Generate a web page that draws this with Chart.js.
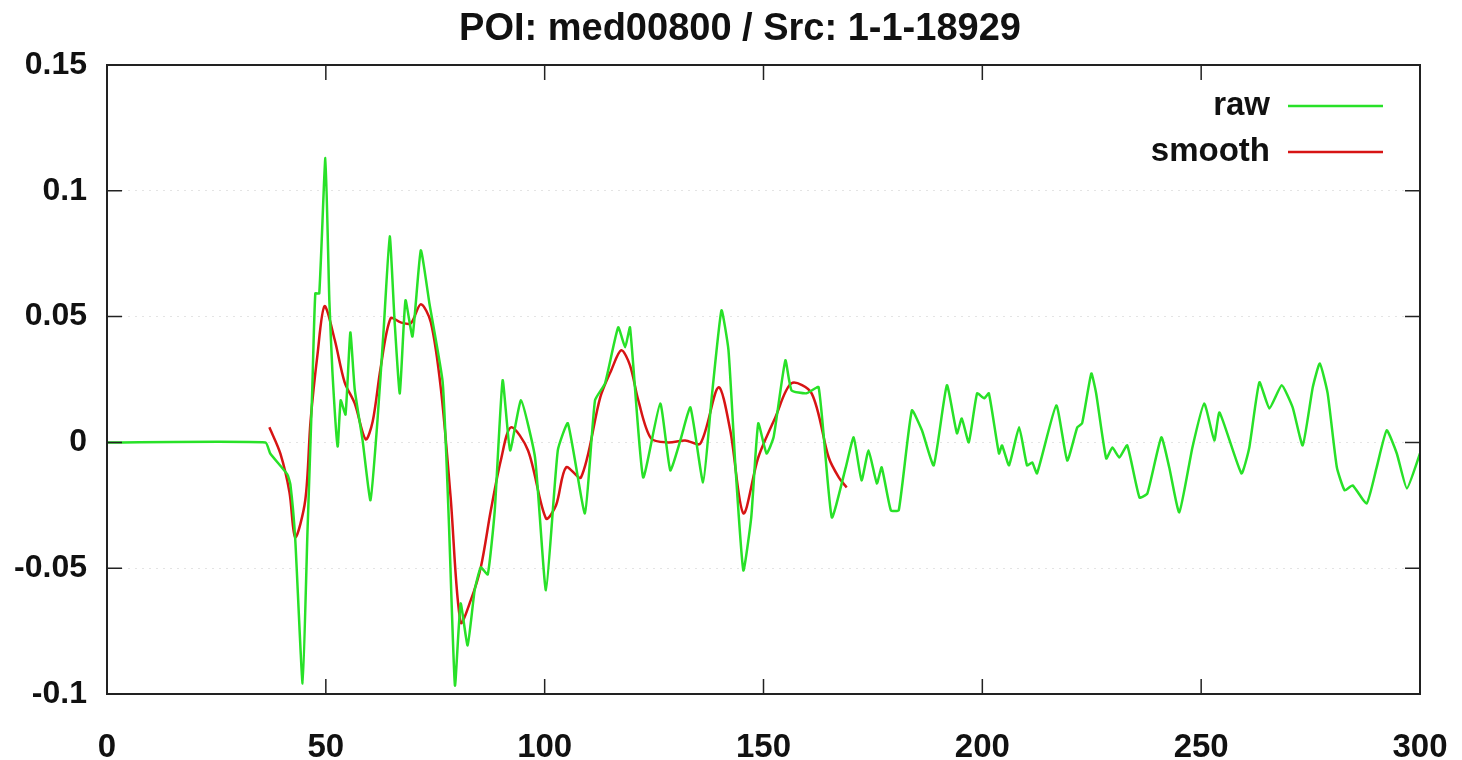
<!DOCTYPE html>
<html>
<head>
<meta charset="utf-8">
<title>POI: med00800 / Src: 1-1-18929</title>
<script src="https://cdn.jsdelivr.net/npm/chart.js@4/dist/chart.umd.min.js"></script>
<style>
  html, body { margin: 0; padding: 0; background: #fff; }
  #wrap { width: 1462px; height: 760px; position: relative; }
</style>
</head>
<body>
<div id="wrap"><canvas id="poiChart"></canvas></div>
<script>
// raw trace
const rawX = [0, 36.2, 37.3, 41.2, 41.9, 43.0, 44.7, 45.8, 46.9, 47.6, 48.5, 49.9, 50.8, 51.5, 52.7, 53.4, 54.5, 55.6, 56.6, 58.4,
  60.2, 61.8, 63.2, 64.6, 65.7, 66.9, 68.2, 69.8, 71.7, 73.7, 76.7, 78.1, 79.5, 80.8, 82.4, 84.0, 85.4, 87.0, 88.6, 90.4,
  92.1, 94.6, 97.8, 100.3, 103.0, 105.3, 109.2, 111.5, 113.8, 116.8, 118.4, 119.5, 122.5, 126.4, 128.7, 131.0, 133.3, 136.2, 138.1, 140.4,
  142.0, 143.6, 145.4, 147.2, 148.8, 150.7, 152.3, 155.0, 156.4, 159.8, 162.6, 165.6, 168.8, 170.6, 172.4, 174.0, 175.9, 177.0, 179.1, 180.9,
  183.9, 186.2, 188.9, 191.9, 194.2, 195.3, 196.9, 198.8, 200.4, 201.5, 203.8, 204.5, 206.1, 208.4, 210.2, 211.4, 212.5, 216.9, 219.4, 221.7,
  222.8, 224.9, 226.0, 228.3, 229.7, 231.3, 233.1, 235.9, 237.7, 240.9, 242.7, 245.0, 248.0, 250.7, 253.0, 254.2, 259.2, 261.0, 263.3, 265.6,
  268.4, 270.9, 273.2, 275.5, 277.1, 278.9, 281.0, 282.8, 284.6, 287.8, 290.1, 292.4, 294.7, 297.0, 300];
const rawY = [0, 0, -0.0044, -0.0127, -0.0167, -0.0382, -0.0958, -0.0358, 0.0211, 0.0592, 0.0592, 0.113, 0.0565, 0.0282, -0.0016, 0.0167, 0.0111, 0.0437, 0.0211, 0.0008,
  -0.023, 0.0087, 0.0445, 0.0819, 0.0485, 0.0195, 0.0565, 0.0421, 0.0763, 0.0549, 0.0239, -0.031, -0.0966, -0.064, -0.0807, -0.0588, -0.0497, -0.0525, -0.027, 0.0247,
  -0.0032, 0.0167, -0.006, -0.0588, -0.0032, 0.0076, -0.0282, 0.0167, 0.0235, 0.0457, 0.0378, 0.0457, -0.0139, 0.0155, -0.0111, 0.0008, 0.0139, -0.0159, 0.0167, 0.0525,
  0.0366, -0.0099, -0.0509, -0.0298, 0.0076, -0.0044, 0.002, 0.0326, 0.0207, 0.0195, 0.0219, -0.0298, -0.0099, 0.002, -0.0151, -0.0032, -0.0163, -0.0099, -0.027, -0.027,
  0.0127, 0.0048, -0.0091, 0.0227, 0.0036, 0.0095, 0, 0.0195, 0.0175, 0.0195, -0.0044, -0.0012, -0.0091, 0.006, -0.0091, -0.008, -0.0123, 0.0147, -0.0072, 0.006,
  0.0076, 0.0274, 0.0195, -0.0064, -0.002, -0.006, -0.0012, -0.0219, -0.0203, 0.002, -0.0099, -0.0278, -0.002, 0.0155, 0.0008, 0.0119, -0.0123, -0.002, 0.0239, 0.0135,
  0.0227, 0.0139, -0.0012, 0.0219, 0.0314, 0.0195, -0.0099, -0.0191, -0.0171, -0.0243, -0.0099, 0.0048, -0.0044, -0.0183, -0.0044];

// smoothed trace
const smoothX = [37.1, 39.6, 41.7, 43.0, 45.3, 46.5, 48.1, 49.7, 52.0, 54.3, 56.6, 59.1, 60.7, 62.5, 64.8, 67.1, 69.4, 71.7, 74.0, 76.3,
  78.5, 80.8, 83.1, 85.4, 87.7, 90.0, 92.3, 96.2, 100.3, 102.6, 104.9, 108.3, 112.7, 115.2, 117.5, 119.5, 121.4, 124.3, 128.2, 132.1,
  135.6, 139.7, 142.4, 145.4, 148.8, 152.7, 156.4, 161.0, 164.9, 167.2, 169.0];
const smoothY = [0.006, -0.0044, -0.0199, -0.0378, -0.023, 0.0083, 0.035, 0.0541, 0.041, 0.0239, 0.0155, 0.0012, 0.0083, 0.0294, 0.0493, 0.0477, 0.0473, 0.0549, 0.0477, 0.0211,
  -0.0215, -0.0716, -0.0628, -0.0497, -0.027, -0.007, 0.006, -0.0032, -0.0302, -0.025, -0.0099, -0.0139, 0.0179, 0.0286, 0.0366, 0.0306, 0.0167, 0.0016, 0, 0.0008,
  -0.0004, 0.0219, 0.0048, -0.0282, -0.006, 0.0099, 0.0235, 0.0195, -0.006, -0.0139, -0.0179];

const xTicks = [0, 50, 100, 150, 200, 250, 300];
const yTicks = [-0.1, -0.05, 0, 0.05, 0.1, 0.15];

const titleText = "POI: med00800 / Src: 1-1-18929";
const seriesNames = ["raw", "smooth"];
const seriesColors = ["rgb(40, 225, 40)", "rgb(215, 20, 20)"];

const FONT = "'Liberation Sans', Arial, sans-serif";

function toPoints(xs, ys) {
  return xs.map((x, i) => ({ x: x, y: ys[i] }));
}

// title, border with inward ticks, key
const gnuplotFrame = {
  id: "gnuplotFrame",
  afterDraw(chart) {
    const ctx = chart.ctx;
    const a = chart.chartArea;
    const xs = chart.scales.x, ys = chart.scales.y;
    ctx.save();

    ctx.fillStyle = "#111";
    ctx.font = "bold 38px " + FONT;
    ctx.textAlign = "center";
    ctx.textBaseline = "middle";
    ctx.fillText(titleText, 740, 30);

    ctx.strokeStyle = "#222";
    ctx.lineWidth = 2;
    ctx.strokeRect(a.left, a.top, a.right - a.left, a.bottom - a.top);

    const tl = 15;
    ctx.lineWidth = 1.5;
    ctx.beginPath();
    xTicks.forEach(v => {
      const px = xs.getPixelForValue(v);
      ctx.moveTo(px, a.bottom); ctx.lineTo(px, a.bottom - tl);
      ctx.moveTo(px, a.top); ctx.lineTo(px, a.top + tl);
    });
    yTicks.forEach(v => {
      const py = ys.getPixelForValue(v);
      ctx.moveTo(a.left, py); ctx.lineTo(a.left + tl, py);
      ctx.moveTo(a.right, py); ctx.lineTo(a.right - tl, py);
    });
    ctx.stroke();

    // key, top right
    ctx.font = "bold 33px " + FONT;
    ctx.textAlign = "right";
    seriesNames.forEach((name, i) => {
      const y = 106 + i * 46;
      ctx.fillStyle = "#111";
      ctx.fillText(name, 1270, y);
      ctx.strokeStyle = seriesColors[i];
      ctx.lineWidth = 2.5;
      ctx.beginPath();
      ctx.moveTo(1288, y);
      ctx.lineTo(1383, y);
      ctx.stroke();
    });
    ctx.restore();
  }
};

new Chart(document.getElementById("poiChart"), {
  type: "line",
  data: {
    datasets: [
      {
        label: seriesNames[0],
        data: toPoints(rawX, rawY),
        borderColor: seriesColors[0],
        borderWidth: 2.5,
        pointRadius: 0,
        tension: 0.15,
        fill: false
      },
      {
        label: seriesNames[1],
        data: toPoints(smoothX, smoothY),
        borderColor: seriesColors[1],
        borderWidth: 2.5,
        pointRadius: 0,
        tension: 0.3,
        fill: false
      }
    ]
  },
  options: {
    responsive: true,
    maintainAspectRatio: false,
    animation: false,
    events: [],
    layout: { padding: { top: 65, right: 42, left: 0, bottom: 0 } },
    plugins: {
      legend: { display: false },
      title: { display: false },
      tooltip: { enabled: false }
    },
    scales: {
      x: {
        type: "linear",
        min: 0,
        max: 300,
        afterBuildTicks: s => { s.ticks = xTicks.map(v => ({ value: v })); },
        afterFit: s => { s.height = 66; s.paddingRight = 0; },
        grid: { display: false, drawTicks: false },
        border: { display: false },
        ticks: {
          color: "#111",
          padding: 34,
          maxRotation: 0,
          font: { family: FONT, size: 33, weight: "bold" }
        }
      },
      y: {
        type: "linear",
        min: -0.1,
        max: 0.15,
        afterBuildTicks: s => { s.ticks = yTicks.map(v => ({ value: v })); },
        afterFit: s => { s.width = 107; },
        grid: { color: "#e4e4e4", lineWidth: 1, drawTicks: false },
        border: { display: false, dash: [2, 5] },
        ticks: {
          color: "#111",
          padding: 20,
          font: { family: FONT, size: 32, weight: "bold" },
          callback: v => String(parseFloat(Number(v).toFixed(2)))
        }
      }
    }
  },
  plugins: [gnuplotFrame]
});
</script>
</body>
</html>
